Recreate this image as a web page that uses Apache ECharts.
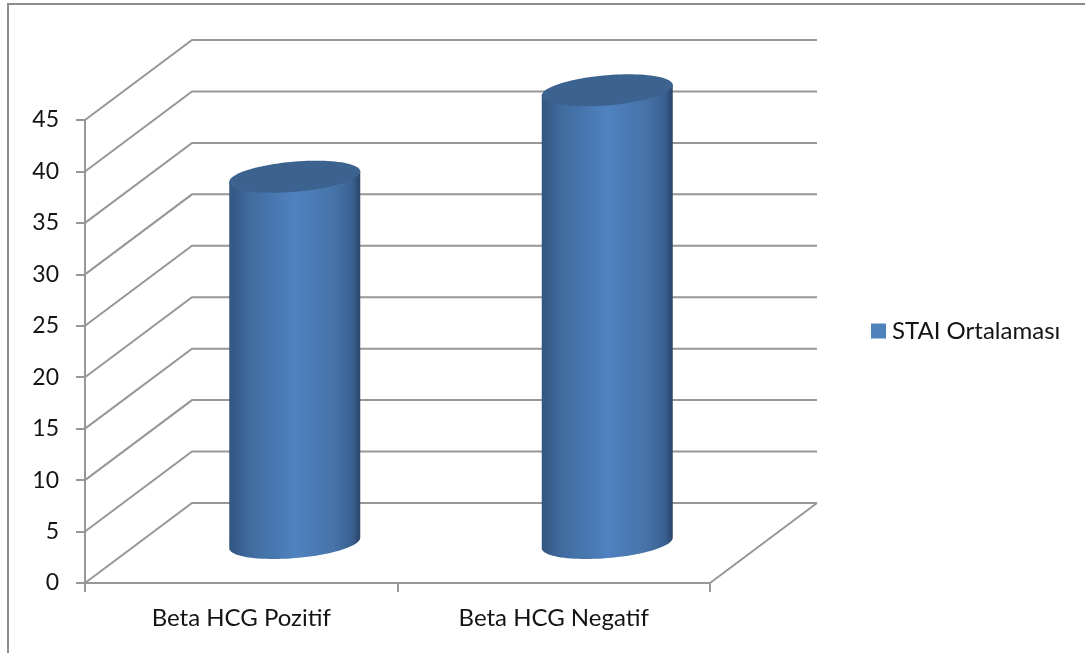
<!DOCTYPE html>
<html>
<head>
<meta charset="utf-8">
<style>html,body{margin:0;padding:0;background:#fff}#chart{width:1085px;height:653px}</style>
<script src="https://cdn.jsdelivr.net/npm/echarts@6/dist/echarts.min.js"></script>
</head>
<body>
<div id="chart"></div>
<script>
// Mean STAI score by Beta HCG result
const categories = ['Beta HCG Pozitif', 'Beta HCG Negatif'];
const staiValues = [35.6, 44];
const gridValues = [0, 5, 10, 15, 20, 25, 30, 35, 40, 45];
const seriesName = 'STAI Ortalaması';

// Oblique projection of the depth axis, in pixels
const DEPTH_X = 107;
const DEPTH_Y = 80;
const LINE = '#979797';
const FONT = 'Lato';
const TEXT = '#141414';

// Gridlines running along the side wall, then across the back wall
function renderWall(params, api) {
  const r = params.coordSys;
  const y = api.coord([0, api.value(0)])[1];
  const children = [{
    type: 'polyline',
    shape: { points: [[r.x, y], [r.x + DEPTH_X, y - DEPTH_Y], [r.x + r.width + DEPTH_X, y - DEPTH_Y]] },
    style: { stroke: LINE, lineWidth: 2, fill: null }
  }];
  if (api.value(0) === 0) {
    // Right edge of the floor
    children.push({
      type: 'line',
      shape: { x1: r.x + r.width, y1: y, x2: r.x + r.width + DEPTH_X, y2: y - DEPTH_Y },
      style: { stroke: LINE, lineWidth: 2 }
    });
  }
  return { type: 'group', children };
}

// One cylinder: a circular base projected with the same depth vector
function renderCylinder(params, api) {
  const base = api.coord([api.value(0), 0]);
  const top = api.coord([api.value(0), api.value(1)]);
  const cx = base[0] + DEPTH_X / 2;
  const yBase = base[1] - DEPTH_Y / 2;
  const yTop = top[1] - DEPTH_Y / 2;
  const halfWidth = 65.5;
  const rimY = 16;
  const rimDX = rimY * DEPTH_X / DEPTH_Y;
  const rimU = Math.sqrt(halfWidth * halfWidth - rimDX * rimDX);
  const t0 = Math.atan2(rimDX, rimU);
  const at = (t, cy) => [cx + rimU * Math.cos(t) + rimDX * Math.sin(t), cy - rimY * Math.sin(t)];

  const steps = 48;
  const body = [at(t0, yTop)];
  for (let i = 0; i <= steps; i++) body.push(at(t0 - Math.PI * i / steps, yBase));
  body.push(at(t0 - Math.PI, yTop));
  const lid = [];
  for (let i = 0; i < steps * 2; i++) lid.push(at(Math.PI * i / steps, yTop));

  return {
    type: 'group',
    children: [
      {
        type: 'polygon',
        shape: { points: body },
        style: {
          fill: {
            type: 'linear', x: 0, y: 0, x2: 1, y2: 0,
            colorStops: [
              { offset: 0, color: '#315680' },
              { offset: 0.14, color: '#3f6a9c' },
              { offset: 0.5, color: '#4f82c0' },
              { offset: 0.8, color: '#4673a8' },
              { offset: 0.94, color: '#3a6090' },
              { offset: 1, color: '#2a4568' }
            ]
          }
        }
      },
      { type: 'polygon', shape: { points: lid }, style: { fill: '#3c638f' } }
    ]
  };
}

const chart = echarts.init(document.getElementById('chart'), null, { renderer: 'canvas' });
chart.setOption({
  animation: false,
  backgroundColor: '#ffffff',
  textStyle: { fontFamily: FONT },
  graphic: [{
    type: 'polyline',
    shape: { points: [[8, 653], [8, 4], [1085, 4]] },
    style: { stroke: '#8c8c8c', lineWidth: 2, fill: null },
    silent: true
  }],
  grid: { left: 85, top: 120, width: 625, height: 463 },
  legend: {
    left: 866, top: 314,
    icon: 'rect', itemWidth: 15, itemHeight: 15, itemGap: 0,
    data: [seriesName],
    textStyle: { fontFamily: FONT, fontSize: 24, color: TEXT, padding: [0, 0, 0, 1] }
  },
  xAxis: {
    type: 'category',
    data: categories,
    axisLine: { lineStyle: { color: LINE, width: 2 } },
    axisTick: { show: true, alignWithLabel: false, length: 9, lineStyle: { color: LINE, width: 2 } },
    axisLabel: { color: TEXT, fontSize: 24, fontFamily: FONT, margin: 23, interval: 0 },
    splitLine: { show: false }
  },
  yAxis: {
    type: 'value',
    min: 0, max: 45, interval: 5,
    axisLine: { show: true, lineStyle: { color: LINE, width: 2 } },
    axisTick: { show: true, length: 9, lineStyle: { color: LINE, width: 2 } },
    axisLabel: { color: TEXT, fontSize: 23, fontFamily: FONT, margin: 26 },
    splitLine: { show: false }
  },
  series: [
    {
      type: 'custom',
      coordinateSystem: 'cartesian2d',
      renderItem: renderWall,
      encode: { y: 0 },
      data: gridValues.map(v => [v]),
      silent: true,
      z: 1
    },
    {
      name: seriesName,
      type: 'custom',
      coordinateSystem: 'cartesian2d',
      renderItem: renderCylinder,
      itemStyle: { color: '#4f81bd' },
      encode: { x: 0, y: 1 },
      data: staiValues.map((v, i) => [i, v]),
      z: 2
    }
  ]
});
</script>
</body>
</html>
